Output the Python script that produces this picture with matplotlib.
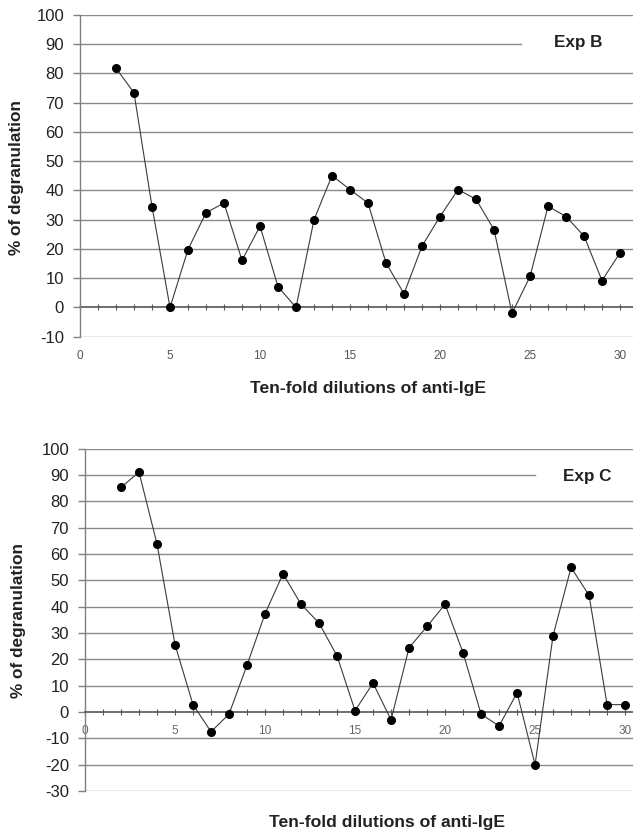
import numpy as np
import matplotlib
matplotlib.use("Agg")
import matplotlib.pyplot as plt
from matplotlib.ticker import MultipleLocator

plt.rcParams['font.family'] = ['Liberation Sans', 'DejaVu Sans']
plt.rcParams['axes.unicode_minus'] = False

# ---- data ----
dilutions = list(range(2, 31))
exp_b = [81.8, 73.4, 34.5, 0.0, 19.8, 32.4, 35.7, 16.1, 27.8, 7.1, 0.0, 30.0,
         45.1, 40.3, 35.7, 15.2, 4.7, 21.0, 31.1, 40.3, 37.0, 26.6, -2.0, 10.6,
         34.6, 31.1, 24.4, 9.2, 18.7]
exp_c = [85.3, 91.1, 63.8, 25.6, 2.8, -7.5, -0.8, 17.8, 37.3, 52.5, 40.9, 33.8,
         21.3, 0.5, 11.0, -3.0, 24.4, 32.5, 40.9, 22.5, -0.8, -5.3, 7.3, -20.0,
         29.0, 54.9, 44.3, 2.8, 2.8]
labels_b = "Exp B"
labels_c = "Exp C"
xlabel = "Ten-fold dilutions of anti-IgE"
ylabel = "% of degranulation"

W, H = 633, 833
fig = plt.figure(figsize=(W / 100, H / 100), dpi=100)

GRID = '#8a8a8a'
AXC = '#808080'


def px_box(left, top, right, bottom):
    return [left / W, 1 - bottom / H, (right - left) / W, (bottom - top) / H]


def setup(ax, ymin, ymax, xmax, short_end, exp_label, exp_xy):
    ax.set_xlim(0, xmax)
    ax.set_ylim(ymin, ymax)
    for s in ['top', 'right', 'bottom']:
        ax.spines[s].set_visible(False)
    ax.spines['left'].set_color(AXC)
    ax.spines['left'].set_linewidth(1.0)
    ax.yaxis.set_major_locator(MultipleLocator(10))
    ax.tick_params(axis='y', direction='out', length=5, width=1, color=AXC,
                   labelsize=12, labelcolor='#222222', pad=6.5)
    for v in np.arange(ymin, ymax + 1, 10):
        if v == 0:
            continue
        xm = short_end if v == 90 else 1.0
        ax.axhline(v, xmin=0, xmax=xm, color=GRID, lw=1.0, zorder=1)
    ax.text(exp_xy[0], exp_xy[1], exp_label, transform=ax.transAxes,
            fontsize=12.3, fontweight='bold', color='#222222',
            ha='center', va='center')


# ---------- Exp B ----------
axb = fig.add_axes(px_box(80, 15, 633, 336.7))
setup(axb, -10, 100, 30.72, (521 - 80) / 553, labels_b,
      ((578 - 80) / 553, (336.7 - 43) / 321.7))
axb.set_xticks(np.arange(0, 31, 5))
axb.tick_params(axis='x', length=0, labelsize=8.5, labelcolor='#555555', pad=9.5)
zero_b = axb.secondary_xaxis(10 / 110)
zero_b.spines['bottom'].set_color('#555555')
zero_b.spines['bottom'].set_linewidth(1.2)
zero_b.set_xticks(np.arange(0, 31, 1))
zero_b.tick_params(axis='x', direction='inout', length=4, width=0.8,
                   color='#555555', labelbottom=False)
axb.plot(dilutions, exp_b, color='#3a3a3a', lw=0.8, marker='o', ms=5.5,
         mfc='black', mec='black', zorder=5)

# ---------- Exp C ----------
axc = fig.add_axes(px_box(85, 448.7, 633, 791))
setup(axc, -30, 100, 30.44, (535 - 85) / 548, labels_c,
      ((587 - 85) / 548, (791 - 476.7) / 342.3))
axc.spines['bottom'].set_visible(True)
axc.spines['bottom'].set_position(('data', 0))
axc.spines['bottom'].set_color('#555555')
axc.spines['bottom'].set_linewidth(1.2)
axc.set_xticks(np.arange(0, 31, 5))
axc.xaxis.set_minor_locator(MultipleLocator(1))
axc.tick_params(axis='x', which='both', direction='inout', length=4, width=0.8,
                color='#555555')
axc.tick_params(axis='x', which='major', labelsize=8.5, labelcolor='#666666',
                pad=7)
axc.plot(dilutions, exp_c, color='#3a3a3a', lw=0.8, marker='o', ms=5.5,
         mfc='black', mec='black', zorder=5)

# ---------- axis titles ----------
fig.text(17 / W, 1 - 177.5 / H, ylabel, rotation=90, fontsize=12.4,
         fontweight='bold', color='#222222', ha='center', va='center')
fig.text(18.5 / W, 1 - 620 / H, ylabel, rotation=90, fontsize=12.4,
         fontweight='bold', color='#222222', ha='center', va='center')
fig.text(367.5 / W, 1 - 389 / H, xlabel, fontsize=12.6, fontweight='bold',
         color='#222222', ha='center', va='center')
fig.text(387 / W, 1 - 822.7 / H, xlabel, fontsize=12.6, fontweight='bold',
         color='#222222', ha='center', va='center')

fig.savefig("out.png", dpi=100, facecolor='white')
